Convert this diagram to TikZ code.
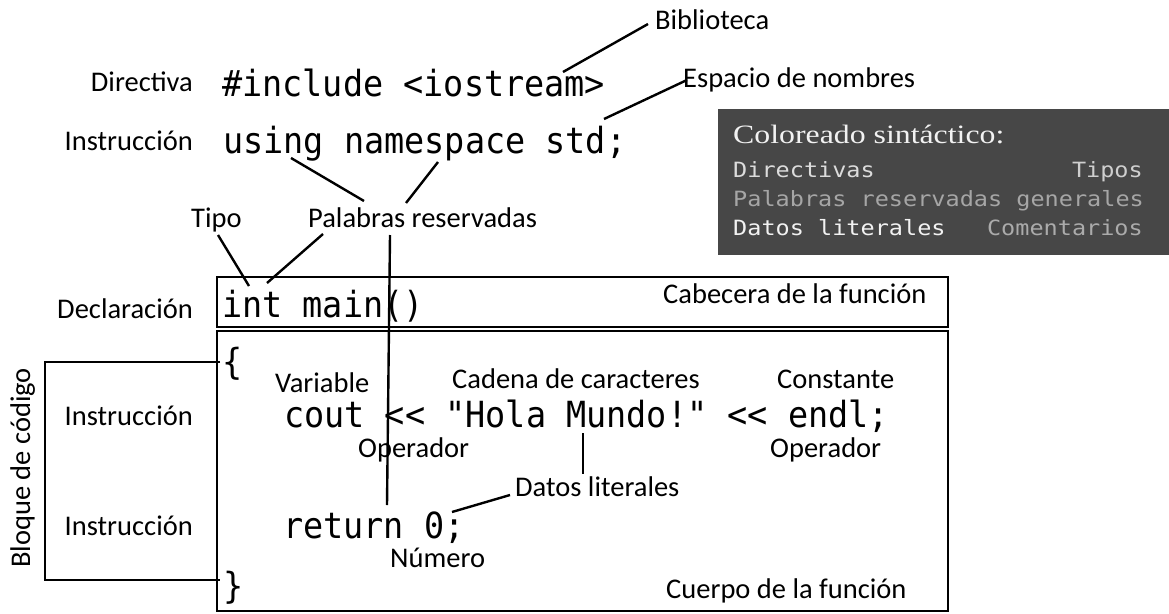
\documentclass[tikz,border=0pt]{standalone}
\usepackage{fontspec}
\setmainfont{Carlito}
\newfontfamily\codefont[FakeStretch=0.93]{DejaVu Sans Mono}
\newfontfamily\boxmono[FakeStretch=1.12]{DejaVu Sans Mono}
\newfontfamily\titlefont[FakeStretch=1.2]{Liberation Serif}
\definecolor{boxgray}{HTML}{474747}
\definecolor{cdir}{HTML}{DCDCDC}
\definecolor{ctipo}{HTML}{CFCFCF}
\definecolor{cpal}{HTML}{A6A6A6}
\definecolor{clit}{HTML}{F2F2F2}
\definecolor{ccom}{HTML}{ABABAB}
\begin{document}
\begin{tikzpicture}[x=1pt,y=-1pt,
  lbl/.style={inner sep=0pt, font=\fontsize{28.5}{30}\selectfont},
  code/.style={inner sep=0pt, font=\codefont\fontsize{36}{38}\selectfont},
  bmono/.style={inner sep=0pt, font=\boxmono\fontsize{21}{23}\selectfont},
  conn/.style={line width=2.4pt},
  frame/.style={line width=1.6pt},
  brack/.style={line width=2.6pt}]
\useasboundingbox (0,0) rectangle (1169,613);

% legend box
\fill[boxgray] (718,109) rectangle (1169,255);
\node[inner sep=0pt, anchor=base west, text=clit, font=\titlefont\fontsize{26.5}{28}\selectfont] (title) at (733,143) {Coloreado sintáctico:};
\node[bmono, anchor=base west, text=cdir] (ldir) at (733,177) {Directivas};
\node[bmono, anchor=base east, text=ctipo] (ltip) at (1143,177) {Tipos};
\node[bmono, anchor=base west, text=cpal] (lpal) at (733,206) {Palabras reservadas generales};
\node[bmono, anchor=base west, text=clit] (llit) at (733,235) {Datos literales};
\node[bmono, anchor=base east, text=ccom] (lcom) at (1143,235) {Comentarios};

% frames
\draw[frame] (217,277) rectangle (948,327);
\draw[frame] (217,331) rectangle (948,611);

% code
\node[code, anchor=base west] (inc) at (222,96) {\#include <iostream>};
\node[code, anchor=base west] (using) at (223,153) {using namespace std;};
\node[code, anchor=base west] (intmain) at (222,317) {int main()};
\node[code, anchor=base west] (lbr) at (222,374) {\{};
\node[code, anchor=base west] (cout) at (284,427) {cout << "Hola Mundo!" << endl;};
\node[code, anchor=base west] (ret) at (283,538) {return 0;};
\node[code, anchor=base west] (rbr) at (223,598) {\}};

% labels
\node[lbl, anchor=base west] (biblio) at (655,29) {Biblioteca};
\node[lbl, anchor=base east] (directiva) at (193,91) {Directiva};
\node[lbl, anchor=base west] (espacio) at (683,87) {Espacio de nombres};
\node[lbl, anchor=base east] (instr1) at (193,150) {Instrucción};
\node[lbl, anchor=base west] (tipo) at (191,227) {Tipo};
\node[lbl, anchor=base west] (palres) at (308,227) {Palabras reservadas};
\node[lbl, anchor=base east] (decl) at (193,318) {Declaración};
\node[lbl, anchor=base west] (cabecera) at (663,303) {Cabecera de la función};
\node[lbl, anchor=base west] (variable) at (275,392) {Variable};
\node[lbl, anchor=base west] (cadena) at (452,388) {Cadena de caracteres};
\node[lbl, anchor=base west] (constante) at (777,388) {Constante};
\node[lbl, anchor=base west] (oper1) at (358,457) {Operador};
\node[lbl, anchor=base west] (oper2) at (770,457) {Operador};
\node[lbl, anchor=base west] (datos) at (515,496) {Datos literales};
\node[lbl, anchor=base west] (numero) at (390,567) {Número};
\node[lbl, anchor=base west] (cuerpo) at (666,598) {Cuerpo de la función};
\node[lbl, anchor=base east] (instr2) at (193,425) {Instrucción};
\node[lbl, anchor=base east] (instr3) at (193,535) {Instrucción};
\node[lbl, anchor=base, rotate=90] (bloque) at (30,468) {Bloque de código};

% connector end points
\coordinate (bibA) at (563,72);  \coordinate (bibB) at (648,24);
\coordinate (espA) at (604,119); \coordinate (espB) at (687,80);
\coordinate (usA) at (291,158);  \coordinate (usB) at (364,201);
\coordinate (nsA) at (438,162);  \coordinate (nsB) at (406,203);
\coordinate (tipA) at (218,235); \coordinate (tipB) at (249,286);
\coordinate (intA) at (323,234); \coordinate (intB) at (267,283);
\coordinate (retA) at (390,235); \coordinate (retB) at (387,505);
\coordinate (munA) at (583,433); \coordinate (munB) at (583,474);
\coordinate (zerA) at (452,512); \coordinate (zerB) at (510,495);
\coordinate (brT) at (220,362);  \coordinate (brTL) at (45,362);
\coordinate (brBL) at (45,580);  \coordinate (brB) at (220,580);

\draw[conn] (bibA) -- (bibB);
\draw[conn] (espA) -- (espB);
\draw[conn] (usA) -- (usB);
\draw[conn] (nsA) -- (nsB);
\draw[conn] (tipA) -- (tipB);
\draw[conn] (intA) -- (intB);
\draw[conn] (retA) -- (retB);
\draw[conn] (munA) -- (munB);
\draw[conn] (zerA) -- (zerB);
\draw[brack] (brT) -- (brTL) -- (brBL) -- (brB);
\end{tikzpicture}
\end{document}
